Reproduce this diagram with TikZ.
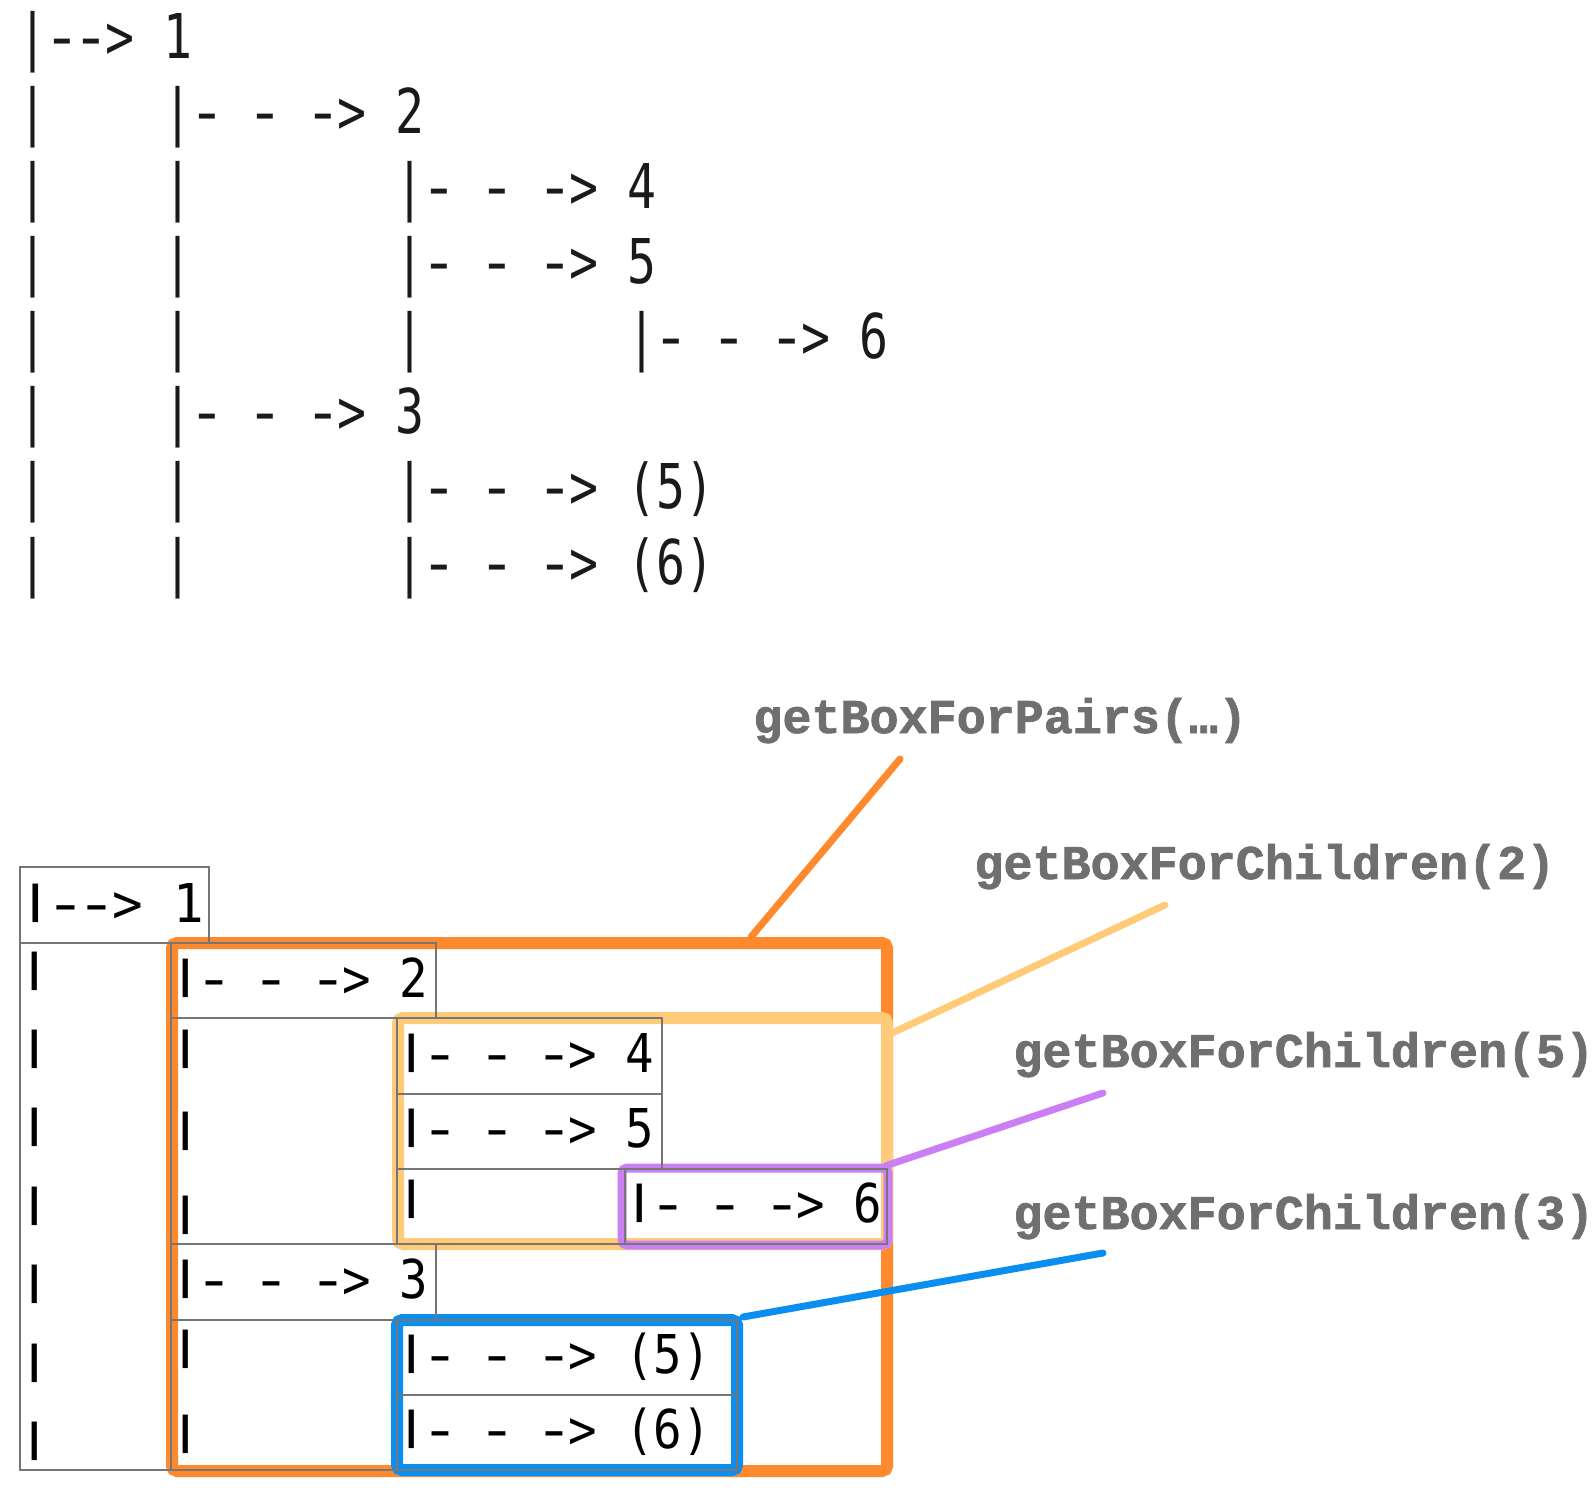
\documentclass[tikz,border=0pt]{standalone}
\usepackage{fontspec}
\usepackage{graphicx}
\usetikzlibrary{fit}
\newfontfamily\topfont[FakeStretch=0.78]{DejaVu Sans Mono}
\newfontfamily\boxfont[FakeStretch=0.885]{DejaVu Sans Mono}
\newfontfamily\boxfontwide[FakeStretch=0.95]{DejaVu Sans Mono}
\newfontfamily\labfont[BoldFeatures={FakeBold=1.5}]{Liberation Mono}
\definecolor{cOrange}{HTML}{FF8A2D}
\definecolor{cYellow}{HTML}{FFCB78}
\definecolor{cPurple}{HTML}{CB7FF4}
\definecolor{cBlue}{HTML}{0A8FF0}
\definecolor{cGrayLine}{HTML}{767676}
\definecolor{cLabel}{HTML}{6F6F6F}
\definecolor{cTop}{HTML}{1A1A1A}
% spaces and hyphens of one character cell each
\newcommand\tsp{\hspace*{14.5pt}}
\newcommand\bsp{\hspace*{14.25pt}}
\newcommand\wsp{\hspace*{15.3pt}}
\newcommand\thy{\makebox[14.5pt][c]{\scalebox{1.3}[1]{-}}}
\newcommand\bhy{\makebox[14.25pt][c]{\scalebox{1.4}[1]{-}}}
\newcommand\whyp{\makebox[15.3pt][c]{\scalebox{1.4}[1]{-}}}
\newcommand\bpipe{\raisebox{4.4pt}{\scalebox{1}[0.72]{\bfseries|}}}
\tikzset{
  gbox/.style={draw=cGrayLine, line width=1.25pt, inner sep=0pt, rectangle},
  cbox/.style={line width=6pt, inner sep=0pt, rectangle, rounded corners=2.5pt},
  conn/.style={line width=3.5pt, line cap=round},
  toptxt/.style={anchor=base west, inner sep=0pt, text=cTop, font=\topfont\fontsize{30.86pt}{30.86pt}\selectfont},
  btxt/.style={anchor=base west, inner sep=0pt, text=black, font=\boxfont\fontsize{26.75pt}{26.75pt}\selectfont},
  labtxt/.style={anchor=base west, inner sep=0pt, text=cLabel, font=\labfont\bfseries\fontsize{24.2pt}{24.2pt}\selectfont}
}
\begin{document}
\begin{tikzpicture}[x=0.5pt,y=-0.5pt]
\useasboundingbox (0,0) rectangle (1596,1492);

% ---------- top tree text ----------
\node[toptxt] (t1) at (18.5,59) {|\thy\thy>\tsp 1};
\foreach \r/\b in {2/134,3/209,4/284,5/359,6/434,7/509,8/584}
  \node[toptxt] (tpa\r) at (18.5,\b) {|};
\foreach \r/\b in {3/209,4/284,5/359,7/509,8/584}
  \node[toptxt] (tpb\r) at (163.5,\b) {|};
\node[toptxt] (tpc5) at (395.5,359) {|};
\node[toptxt] (t2) at (163.5,134) {|\thy\tsp\thy\tsp\thy>\tsp 2};
\node[toptxt] (t4) at (395.5,209) {|\thy\tsp\thy\tsp\thy>\tsp 4};
\node[toptxt] (t5) at (395.5,284) {|\thy\tsp\thy\tsp\thy>\tsp 5};
\node[toptxt] (t6) at (627.5,359) {|\thy\tsp\thy\tsp\thy>\tsp 6};
\node[toptxt] (t3) at (163.5,434) {|\thy\tsp\thy\tsp\thy>\tsp 3};
\node[toptxt] (t5b) at (395.5,509) {|\thy\tsp\thy\tsp\thy>\tsp (5)};
\node[toptxt] (t6b) at (395.5,584) {|\thy\tsp\thy\tsp\thy>\tsp (6)};

% ---------- coloured boxes ----------
\node[cbox, draw=cOrange, fit={(172,943) (887,1471)}] (obox) {};
\node[cbox, draw=cYellow, fit={(398,1018) (887,1244)}] (ybox) {};
\node[cbox, draw=cPurple, line width=4.5pt, fit={(622,1168) (888,1245)}] (pbox) {};
\node[cbox, draw=cBlue, fit={(397,1320) (737,1470)}] (bbox) {};

% ---------- connectors ----------
\coordinate (eP) at (900,759);
\coordinate (e2) at (1165,905);
\coordinate (e5) at (1103,1093);
\coordinate (e3) at (1103,1253);
\coordinate (xo) at (751,0);
\draw[conn, draw=cOrange] (obox.north -| xo) -- (eP);
\draw[conn, draw=cYellow] (ybox.north east) ++(-3,22) -- (e2);
\draw[conn, draw=cPurple] (pbox.north east) ++(-6,2) -- (e5);
\draw[conn, draw=cBlue] (bbox.north east) ++(0,3) -- (e3);

% ---------- grey boxes ----------
\node[gbox, fit={(20,867) (209,943)}] (g1) {};
\node[gbox, fit={(20,943) (171,1470)}] (gcol1) {};
\node[gbox, fit={(171,943) (436,1018)}] (g2) {};
\node[gbox, fit={(171,1018) (397,1244)}] (gcol2a) {};
\node[gbox, fit={(397,1018) (662,1094)}] (g4) {};
\node[gbox, fit={(397,1094) (662,1169)}] (g5) {};
\node[gbox, fit={(397,1169) (625,1244)}] (gcol3) {};
\node[gbox, fit={(625,1169) (887,1244)}] (g6) {};
\node[gbox, fit={(171,1244) (436,1320)}] (g3) {};
\node[gbox, fit={(171,1320) (397,1470)}] (gcol2b) {};
\node[gbox, fit={(397,1320) (737,1395)}] (g5b) {};
\node[gbox, fit={(397,1395) (737,1470)}] (g6b) {};

% ---------- box texts ----------
\node[btxt] (b1) at (20,922) {\boxfontwide\bpipe\whyp\whyp>\wsp 1};
\node[btxt] (b2) at (171,997) {\bpipe\bhy\bsp\bhy\bsp\bhy>\bsp 2};
\node[btxt] (b4) at (397,1072) {\bpipe\bhy\bsp\bhy\bsp\bhy>\bsp 4};
\node[btxt] (b5) at (397,1147) {\bpipe\bhy\bsp\bhy\bsp\bhy>\bsp 5};
\node[btxt] (b6) at (625,1222) {\bpipe\bhy\bsp\bhy\bsp\bhy>\bsp 6};
\node[btxt] (b3) at (171,1298) {\bpipe\bhy\bsp\bhy\bsp\bhy>\bsp 3};
\node[btxt] (b5b) at (397,1373) {\bpipe\bhy\bsp\bhy\bsp\bhy>\bsp (5)};
\node[btxt] (b6b) at (397,1448) {\bpipe\bhy\bsp\bhy\bsp\bhy>\bsp (6)};
\foreach \i/\b in {1/990,2/1068,3/1146,4/1225,5/1303,6/1382,7/1460}
  \node[btxt] (pa\i) at (20,\b) {\bpipe};
\foreach \i/\b in {1/1068,2/1150,3/1234,4/1368,5/1453}
  \node[btxt] (pb\i) at (171,\b) {\bpipe};
\node[btxt] (pc1) at (397,1218) {\bpipe};

% ---------- labels ----------
\node[labtxt] (lP) at (753,733) {getBoxForPairs(…)};
\node[labtxt] (l2) at (974,879) {getBoxForChildren(2)};
\node[labtxt] (l5) at (1013,1067) {getBoxForChildren(5)};
\node[labtxt] (l3) at (1013,1229) {getBoxForChildren(3)};
\end{tikzpicture}
\end{document}
